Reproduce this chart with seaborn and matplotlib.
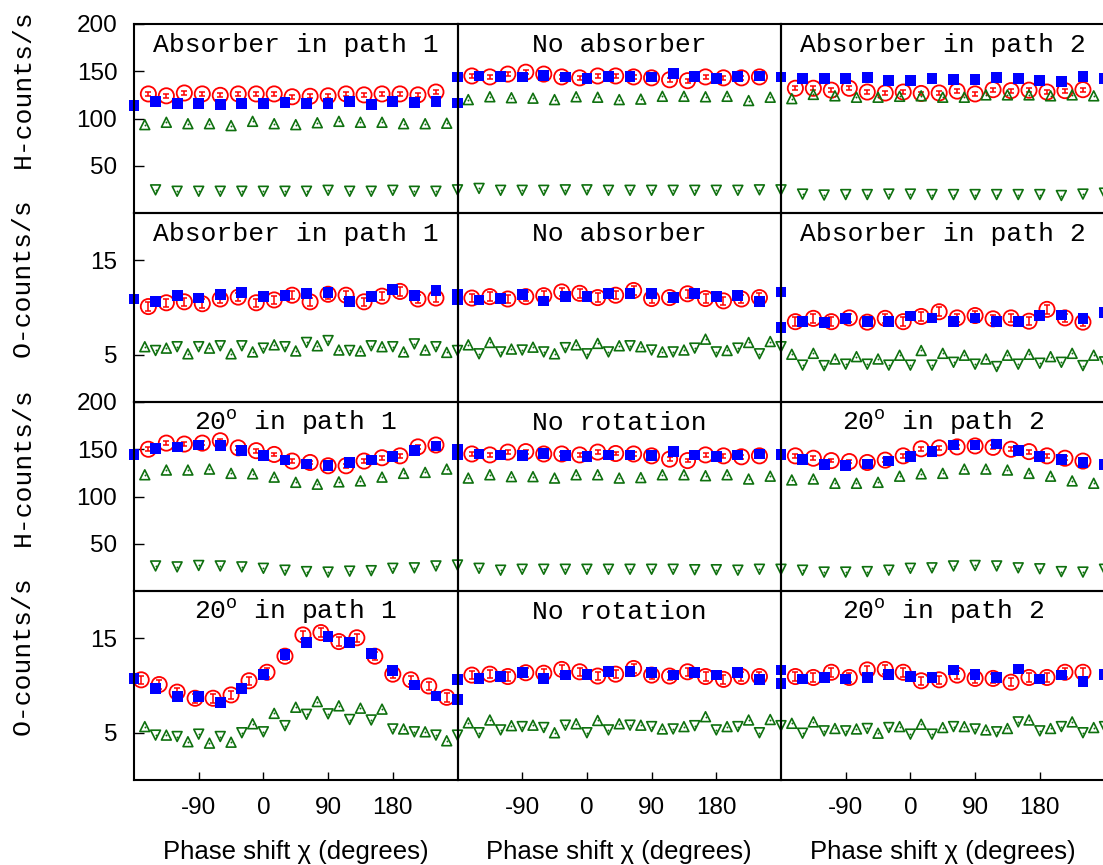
import matplotlib
matplotlib.use('Agg')
import numpy as np
import pandas as pd
import seaborn as sns
import matplotlib.pyplot as plt

# phase shift positions (degrees) of each series
x_square = [-180, -150, -120, -90, -60, -30, 0, 30, 60, 90, 120, 150, 180, 210, 240, 270]
x_circle = [-160, -135, -110, -85, -60, -35, -10, 15, 40, 65, 90, 115, 140, 165, 190, 215, 240]
x_circle_long = [-170, -145, -120, -95, -70, -45, -20, 5, 30, 55, 80, 105, 130, 155, 180, 205, 230, 255]
x_up = [-165, -135, -105, -75, -45, -15, 15, 45, 75, 105, 135, 165, 195, 225, 255]
x_down = [-150, -120, -90, -60, -30, 0, 30, 60, 90, 120, 150, 180, 210, 240, 270]

titles = [
    ['Absorber in path 1', 'No absorber', 'Absorber in path 2'],
    ['Absorber in path 1', 'No absorber', 'Absorber in path 2'],
    [r'20$^{\mathdefault{o}}$ in path 1', 'No rotation', r'20$^{\mathdefault{o}}$ in path 2'],
    [r'20$^{\mathdefault{o}}$ in path 1', 'No rotation', r'20$^{\mathdefault{o}}$ in path 2'],
]
row_labels = ['H-counts/s', 'O-counts/s', 'H-counts/s', 'O-counts/s']
xtick_vals = [-90, 0, 90, 180]
h_ticks = [50, 100, 150, 200]
o_ticks = [5, 15]
h_err = 2.0
o_err = 0.45

# row 1: H-counts, absorber
h1_circle = [
    [126, 124, 127, 126, 124.5, 126, 126, 126, 123, 123.5, 124, 126, 125, 126, 126, 125, 128],
    [145, 144, 147, 149, 147, 144, 143, 145, 145, 144, 143, 141, 140, 144, 143, 143, 144],
    [132, 132, 130, 132, 128, 127, 128, 126.5, 127, 129, 126, 130.5, 129.5, 130, 128, 129.5, 130.5],
]
h1_square = [
    [114, 118, 116, 116, 115, 116, 116, 117, 116, 116, 118, 115, 118, 117, 118, 116.5],
    [144, 145, 144.5, 144, 145.5, 144, 142, 144.5, 144.5, 144, 147.5, 144.5, 142, 144.5, 145, 144],
    [144, 142, 142, 142, 143.5, 140, 140, 142, 141.5, 141.5, 143.5, 142, 140, 139, 144.5, 142],
]
h1_up = [
    [93.5, 96, 94.5, 94.5, 92.5, 97, 94.5, 93.5, 95.5, 97, 96, 96, 94.5, 94.5, 95],
    [120, 123, 122, 121.5, 120, 123, 122.5, 120, 120.5, 123.5, 123.5, 123, 123.5, 119, 122.5],
    [121, 125.5, 124, 122.5, 122.5, 123.5, 124, 122.5, 122.5, 125, 125, 125, 124, 125, 124],
]
h1_down = [
    [24.5, 23, 23, 23, 23, 23, 23, 23, 24, 23, 23, 24, 23, 23, 24.5],
    [26, 24, 24, 24, 24.5, 24.5, 24, 24, 24, 24, 24, 24, 24, 24.5, 24.5],
    [20, 19, 19.5, 19.5, 20, 20, 19.5, 19.5, 19.5, 19.5, 19.5, 19.5, 18.5, 20, 21],
]

# row 2: O-counts, absorber
o1_circle = [
    [10.1, 10.5, 10.6, 10.4, 10.9, 11.1, 10.5, 10.8, 11.3, 10.6, 11.4, 11.3, 10.6, 11.2, 11.7, 10.9, 11.0],
    [11.0, 11.15, 10.9, 11.15, 11.25, 11.65, 11.5, 11.05, 11.3, 11.8, 10.95, 11.05, 11.45, 10.95, 10.7, 10.9, 11.05],
    [8.5, 8.85, 8.5, 8.9, 8.45, 8.85, 8.5, 9.05, 9.55, 8.9, 9.15, 8.8, 8.9, 8.55, 9.8, 8.9, 8.45],
]
o1_square = [
    [10.9, 10.6, 11.3, 11.0, 11.4, 11.6, 11.2, 11.3, 11.5, 11.6, 10.6, 11.2, 11.9, 11.3, 11.8, 10.8],
    [11.35, 10.8, 10.95, 11.4, 10.7, 11.15, 11.15, 11.5, 11.5, 11.45, 11.05, 11.45, 11.15, 11.3, 10.6, 11.65],
    [7.85, 8.55, 8.4, 8.8, 8.5, 8.55, 9.1, 8.9, 8.55, 8.9, 8.5, 8.55, 9.15, 9.2, 8.8, 9.5],
]
o1_up = [
    [5.85, 5.7, 5.1, 5.7, 5.1, 5.3, 6.05, 5.4, 5.95, 5.5, 5.4, 5.85, 5.3, 5.5, 5.25],
    [6.05, 6.3, 5.6, 5.8, 5.1, 6.05, 6.2, 5.95, 5.85, 5.3, 5.5, 6.65, 5.45, 6.3, 6.4],
    [5.05, 5.15, 4.55, 4.8, 4.55, 4.95, 5.45, 5.15, 4.95, 4.55, 4.95, 5.05, 4.8, 5.15, 4.95],
]
o1_down = [
    [5.45, 5.85, 5.85, 5.95, 5.95, 5.7, 5.85, 6.3, 6.5, 5.45, 5.95, 5.85, 6.15, 5.85, 5.45],
    [5.1, 5.3, 5.5, 5.3, 5.75, 5.1, 5.3, 5.95, 5.5, 5.3, 5.7, 5.3, 5.7, 5.1, 5.85],
    [3.9, 3.85, 4.0, 4.0, 3.9, 3.9, 3.9, 4.2, 4.0, 3.75, 4.0, 4.1, 4.2, 3.85, 4.25],
]

# row 3: H-counts, rotation
h2_circle = [
    [150, 156.5, 155.5, 156.5, 159, 151.5, 148.5, 144.5, 137.5, 136, 132.5, 132.5, 137.5, 141, 143, 152.5, 154.5],
    [145, 144, 147, 147.5, 145, 145, 144, 147, 145.5, 145, 143, 139.5, 138, 144, 143, 142, 143],
    [143, 140.5, 138, 137, 136, 138.5, 143, 150.5, 151.5, 152.5, 153.5, 152, 150, 147.5, 143, 140.5, 137.5],
]
h2_square = [
    [144.5, 151, 152.5, 154.5, 154, 149, 143, 138.5, 134.5, 132.5, 136, 138.5, 142, 149, 153.5, 150],
    [144, 145, 144, 143, 145.5, 143, 142, 144, 144, 143, 147.5, 144, 142, 144, 145, 144.5],
    [144.5, 139.5, 133.5, 132.5, 134.5, 137.5, 142, 148, 154.5, 154.5, 155.5, 149, 142, 139.5, 136, 133.5],
]
h2_up = [
    [123, 128, 128, 129, 124.5, 124, 120.5, 115, 113, 115.5, 116.5, 120.5, 124.5, 125.5, 129],
    [119.5, 123, 121, 121, 119.5, 123, 123, 119.5, 120, 123, 123, 122, 123, 118.5, 121.5],
    [117.5, 118.5, 114, 114, 115, 121.5, 124, 124.5, 129, 129, 128, 124.5, 121.5, 116.5, 114],
]
h2_down = [
    [26.5, 25.5, 27, 26.5, 25.5, 24, 22, 20.5, 20, 21, 21.5, 24, 24.5, 26.5, 27.5],
    [24, 22, 23, 23, 23, 23, 23, 23, 23, 23, 22.5, 22.5, 22, 23, 23],
    [22, 20, 20, 20.5, 22, 24, 24.5, 26.5, 27, 26.5, 24.5, 23.5, 20.5, 20, 23],
]

# row 4: O-counts, rotation
o2_circle = [
    [10.6, 10.1, 9.3, 8.65, 8.65, 9.0, 10.5, 11.4, 13.1, 15.35, 15.6, 14.65, 15.05, 13.1, 11.2, 10.6, 9.95, 8.75],
    [11.1, 11.2, 10.95, 11.35, 11.3, 11.7, 11.45, 11.0, 11.2, 11.8, 11.1, 11.0, 11.45, 10.95, 10.65, 10.95, 10.95],
    [10.95, 10.85, 11.4, 10.85, 11.65, 11.7, 11.4, 10.5, 10.6, 11.1, 10.75, 10.75, 10.35, 10.85, 10.85, 11.4, 11.4],
]
o2_square = [
    [10.75, 9.65, 8.8, 8.8, 8.2, 9.65, 11.2, 13.3, 14.55, 15.15, 14.55, 13.4, 11.55, 10.05, 8.9, 8.55],
    [10.6, 10.75, 10.95, 11.35, 10.75, 11.1, 11.2, 11.45, 11.45, 11.35, 11.1, 11.4, 11.1, 11.35, 10.65, 11.65],
    [10.25, 10.7, 10.85, 10.7, 10.85, 11.2, 10.95, 10.85, 11.65, 11.2, 10.85, 11.75, 10.7, 11.1, 10.4, 11.2],
]
o2_up = [
    [5.65, 4.75, 4.05, 3.9, 4.0, 5.95, 7.05, 7.7, 8.3, 7.85, 7.6, 7.5, 5.4, 5.1, 4.15],
    [6.05, 6.35, 5.75, 5.8, 5.0, 5.95, 6.3, 5.95, 5.8, 5.4, 5.65, 6.7, 5.65, 6.35, 6.4],
    [6.0, 6.15, 5.45, 5.4, 4.95, 5.65, 5.9, 5.55, 5.65, 5.3, 5.45, 6.35, 5.45, 6.15, 5.55],
]
o2_down = [
    [4.75, 4.6, 4.85, 4.6, 5.0, 5.1, 5.75, 6.95, 7.0, 6.4, 6.35, 5.4, 5.1, 4.75, 4.75],
    [5.0, 5.3, 5.65, 5.55, 5.8, 5.0, 5.3, 5.8, 5.65, 5.4, 5.75, 5.3, 5.65, 5.0, 5.75],
    [4.95, 5.2, 5.2, 5.45, 5.55, 4.85, 4.85, 5.65, 5.4, 5.1, 6.15, 5.2, 5.65, 5.0, 5.65],
]

rows = [
    (h1_circle, h1_square, h1_up, h1_down, 200, h_ticks, h_err),
    (o1_circle, o1_square, o1_up, o1_down, 20, o_ticks, o_err),
    (h2_circle, h2_square, h2_up, h2_down, 200, h_ticks, h_err),
    (o2_circle, o2_square, o2_up, o2_down, 20, o_ticks, o_err),
]

sns.set_style('white')
plt.rcParams['font.family'] = ['Liberation Sans', 'DejaVu Sans']
plt.rcParams['axes.unicode_minus'] = False
for key in ['text.color', 'axes.labelcolor', 'xtick.color', 'ytick.color']:
    plt.rcParams[key] = 'black'
mono = ['Liberation Mono', 'DejaVu Sans Mono']
RED, BLUE, GREEN = '#ff0000', '#0000ff', '#0e700e'

W, H = 1103, 865
lefts = [134, 457.5, 781]
tops = [24, 213, 402, 591]
pw, ph = 323.5, 189

fig = plt.figure(figsize=(W / 100, H / 100), dpi=100)


def points(ax, x, y, marker, s, face, edge, lw, z):
    df = pd.DataFrame({'chi': x, 'counts': y})
    sns.scatterplot(data=df, x='chi', y='counts', ax=ax, marker=marker, s=s,
                    facecolor=face, edgecolor=edge, linewidth=lw,
                    clip_on=False, zorder=z, legend=False)


for r, (circ, sq, up, down, ymax, yt, err) in enumerate(rows):
    for c in range(3):
        ax = fig.add_axes([lefts[c] / W, (H - tops[r] - ph) / H, pw / W, ph / H])
        ax.set_facecolor('none')
        xc = x_circle_long if len(circ[c]) == len(x_circle_long) else x_circle
        ax.errorbar(xc, circ[c], yerr=err, fmt='none', ecolor=RED,
                    elinewidth=1.1, capsize=2.5, capthick=1.1, zorder=3)
        points(ax, xc, circ[c], 'o', 120, 'none', RED, 1.3, 3)
        points(ax, x_up, up[c], '^', 50, 'none', GREEN, 1.2, 4)
        points(ax, x_down, down[c], 'v', 50, 'none', GREEN, 1.2, 4)
        points(ax, x_up, up[c], 'o', 2, GREEN, GREEN, 0, 4)
        points(ax, x_down, down[c], 'o', 2, GREEN, GREEN, 0, 4)
        points(ax, x_square, sq[c], 's', 60, BLUE, 'none', 0, 5)

        ax.set_xlim(-180, 270)
        ax.set_ylim(0, ymax)
        ax.set_xlabel('')
        ax.set_ylabel('')
        for sp in ax.spines.values():
            sp.set_linewidth(1.5)
            sp.set_color('black')
            sp.set_zorder(6)

        if c == 0:
            ax.set_yticks(yt)
            ax.tick_params(axis='y', direction='in', length=7, width=1,
                           labelsize=17.5, pad=12, left=True)
        else:
            ax.set_yticks([])
        if r == 3:
            ax.set_xticks(xtick_vals)
            ax.tick_params(axis='x', direction='in', length=6, width=1,
                           labelsize=17.5, pad=12, bottom=True)
            ax.set_xlabel('Phase shift χ (degrees)', fontsize=18.5, labelpad=15)
        else:
            ax.set_xticks([])

        ax.text(0.5, 1 - 28 / ph, titles[r][c], transform=ax.transAxes,
                ha='center', va='baseline', family=mono, fontsize=19)

    fig.text(23 / W, 1 - (tops[r] + ph / 2 - 30) / H, row_labels[r], rotation=90,
             ha='center', va='center', family=mono, fontsize=19)

fig.savefig('out.png', dpi=100, facecolor='white')
